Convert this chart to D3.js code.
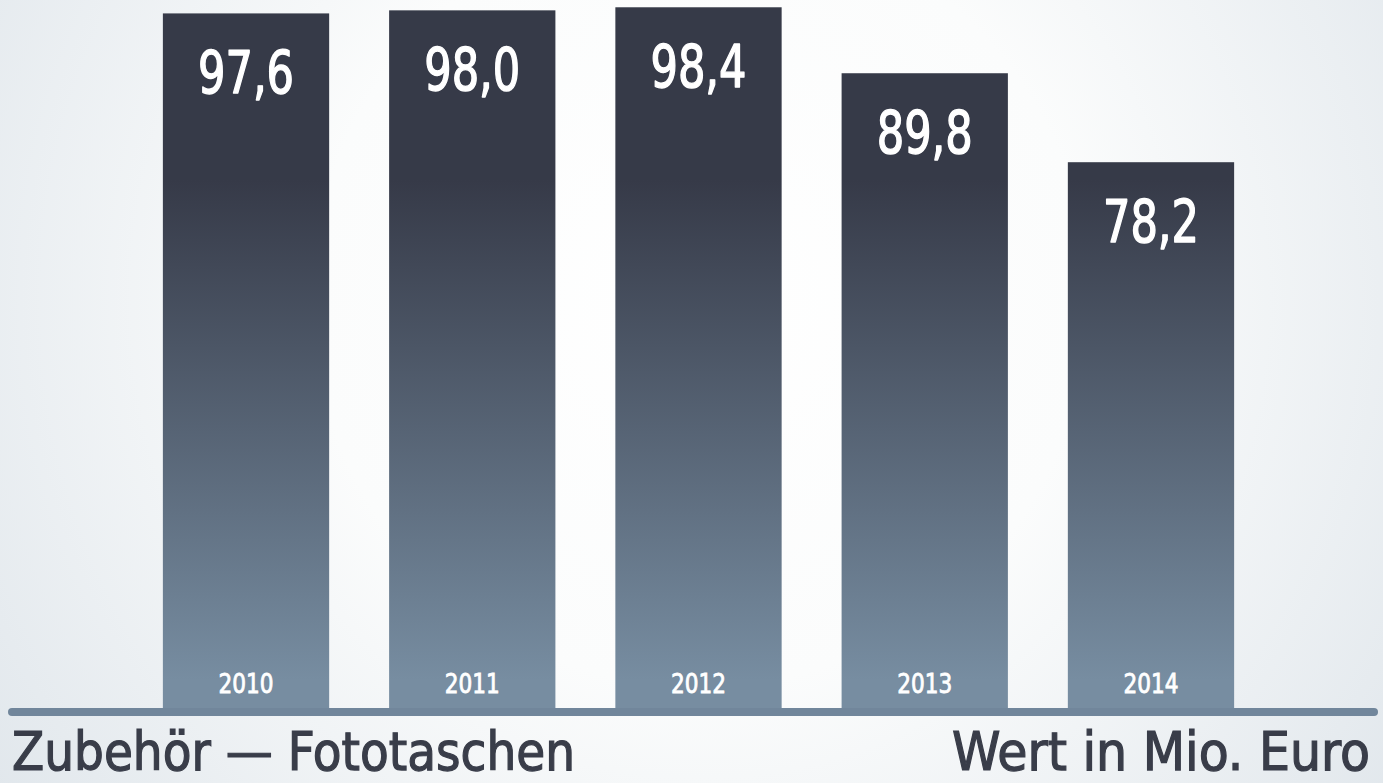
<!DOCTYPE html>
<html>
<head>
<meta charset="utf-8">
<script src="https://cdn.jsdelivr.net/npm/d3@7"></script>
<style>
  html, body { margin: 0; padding: 0; overflow: hidden; }
  svg { display: block; }
</style>
</head>
<body>
<script>
  // data
  var years = ["2010", "2011", "2012", "2013", "2014"];
  var values = [97.6, 98.0, 98.4, 89.8, 78.2];
  var valueLabels = ["97,6", "98,0", "98,4", "89,8", "78,2"];

  var width = 1383, height = 783,
    baseY = 709,
    font = "'DejaVu Sans Condensed', 'DejaVu Sans', sans-serif";

  var svg = d3.select("body").append("svg")
    .attr("width", width)
    .attr("height", height);

  var defs = svg.append("defs");

  var bg = defs.append("radialGradient")
    .attr("id", "bg")
    .attr("gradientUnits", "userSpaceOnUse")
    .attr("cx", 700).attr("cy", 300).attr("r", 860);
  bg.append("stop").attr("offset", "0%").attr("stop-color", "#ffffff");
  bg.append("stop").attr("offset", "45%").attr("stop-color", "#fbfcfc");
  bg.append("stop").attr("offset", "100%").attr("stop-color", "#e1e7ec");

  var barGrad = defs.append("linearGradient")
    .attr("id", "bar")
    .attr("gradientUnits", "userSpaceOnUse")
    .attr("x1", 0).attr("x2", 0).attr("y1", 180).attr("y2", 680);
  barGrad.append("stop").attr("offset", "0%").attr("stop-color", "#363a48");
  barGrad.append("stop").attr("offset", "100%").attr("stop-color", "#778da1");

  svg.append("rect")
    .attr("width", width).attr("height", height)
    .attr("fill", "url(#bg)");

  var x = d3.scaleBand()
    .domain(years)
    .range([95, 1302])
    .paddingInner(0.265)
    .paddingOuter(0.3);

  // zero sits below the base line, bars are cut at the line
  var y = d3.scaleLinear()
    .domain([0, 100])
    .range([762, -5]);

  var g = svg.append("g");

  g.selectAll("rect.bar")
    .data(values)
    .enter().append("rect")
    .attr("class", "bar")
    .attr("x", function (d, i) { return x(years[i]); })
    .attr("y", function (d) { return y(d); })
    .attr("width", x.bandwidth())
    .attr("height", function (d) { return baseY - y(d); })
    .attr("fill", "url(#bar)");

  g.selectAll("text.val")
    .data(values)
    .enter().append("text")
    .attr("class", "val")
    .attr("x", function (d, i) { return x(years[i]) + x.bandwidth() / 2; })
    .attr("y", function (d) { return y(d) + 80; })
    .attr("text-anchor", "middle")
    .attr("fill", "#ffffff")
    .attr("stroke", "#ffffff")
    .attr("stroke-width", 1.4)
    .attr("stroke-linejoin", "round")
    .attr("font-family", font)
    .attr("font-size", 58)
    .attr("textLength", 96)
    .attr("lengthAdjust", "spacingAndGlyphs")
    .text(function (d, i) { return valueLabels[i]; });

  g.selectAll("text.year")
    .data(years)
    .enter().append("text")
    .attr("class", "year")
    .attr("x", function (d) { return x(d) + x.bandwidth() / 2; })
    .attr("y", 693)
    .attr("text-anchor", "middle")
    .attr("fill", "#ffffff")
    .attr("stroke", "#ffffff")
    .attr("stroke-width", 0.8)
    .attr("font-family", font)
    .attr("font-size", 27)
    .attr("textLength", 55)
    .attr("lengthAdjust", "spacingAndGlyphs")
    .text(function (d) { return d; });

  svg.append("line")
    .attr("x1", 12).attr("x2", 1374)
    .attr("y1", 712).attr("y2", 712)
    .attr("stroke", "#71869b")
    .attr("stroke-width", 8)
    .attr("stroke-linecap", "round");

  svg.append("text")
    .attr("x", 12).attr("y", 770)
    .attr("fill", "#393d49")
    .attr("stroke", "#393d49")
    .attr("stroke-width", 1.2)
    .attr("font-family", font)
    .attr("font-size", 54)
    .attr("textLength", 563)
    .attr("lengthAdjust", "spacingAndGlyphs")
    .text("Zubehör — Fototaschen");

  svg.append("text")
    .attr("x", 1370).attr("y", 770)
    .attr("text-anchor", "end")
    .attr("fill", "#393d49")
    .attr("stroke", "#393d49")
    .attr("stroke-width", 1.2)
    .attr("font-family", font)
    .attr("font-size", 54)
    .attr("textLength", 418)
    .attr("lengthAdjust", "spacingAndGlyphs")
    .text("Wert in Mio. Euro");
</script>
</body>
</html>
